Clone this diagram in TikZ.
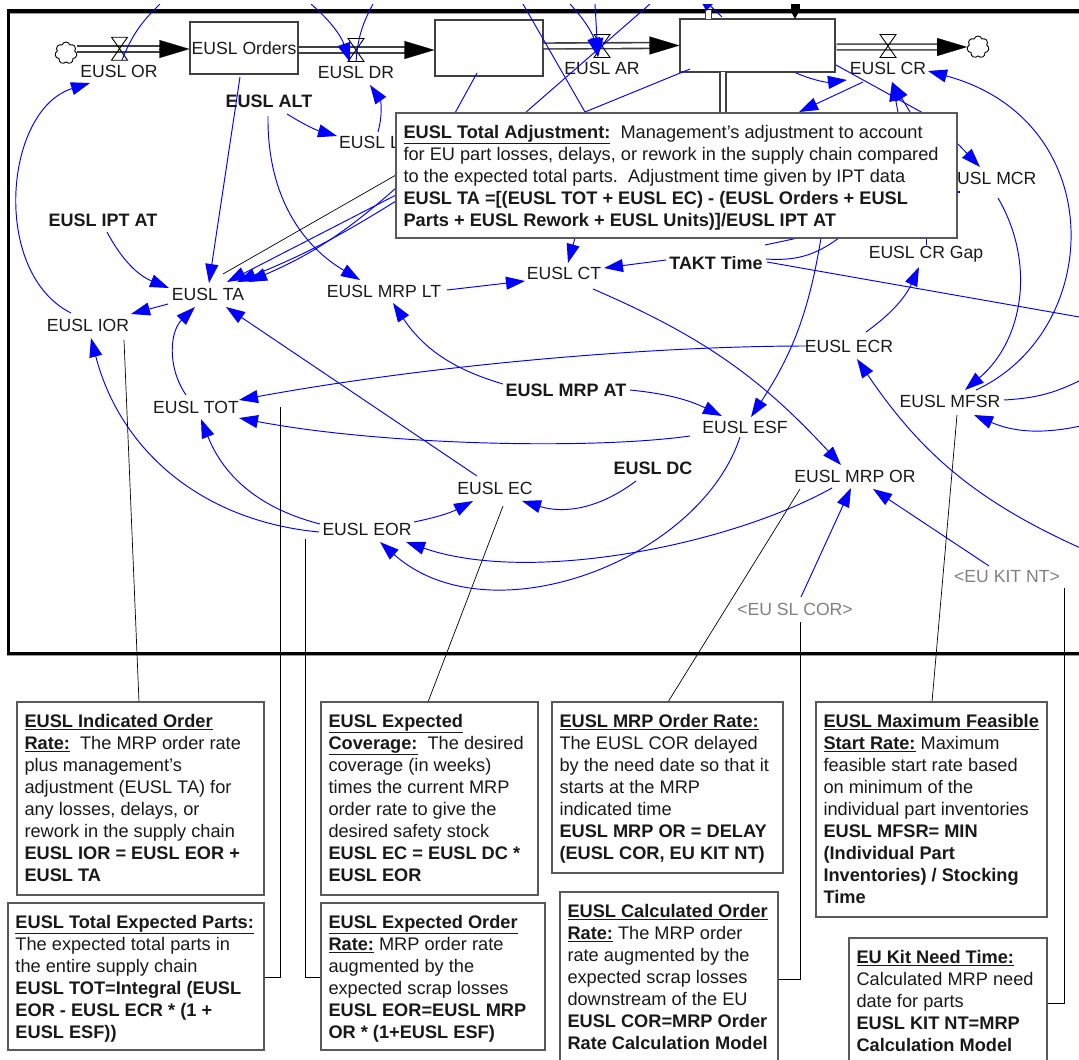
\documentclass[tikz,border=0pt]{standalone}
\usepackage{fontspec}
\setmainfont{Liberation Sans}
\usetikzlibrary{arrows.meta,shapes.symbols,calc}
\pgfdeclarelayer{top}
\pgfsetlayers{main,top}
\newcommand\hd[1]{\underline{\textbf{#1}}}
\newcommand\bx[3]{\parbox[c][#2pt][t]{#1pt}{\raggedright\strut #3}}
\newcommand\valve[2]{\draw[valvest] (#1-8,#2-11.5) -- (#1+8,#2+11.5) -- (#1-8,#2+11.5) -- (#1+8,#2-11.5) -- cycle;}
\tikzset{
  lab/.style={font=\fontsize{17.6}{20}\selectfont,inner sep=0pt,text=black!90},
  blab/.style={lab,font=\fontsize{18}{20}\bfseries\selectfont},
  glab/.style={lab,text=black!50},
  stock/.style={draw=black!75,line width=1.2pt,fill=white,inner sep=0pt},
  cn/.style={draw=blue,line width=0.95pt,-{Triangle[length=19,width=13]}},
  ln/.style={draw=blue,line width=0.95pt},
  lead/.style={draw=black,line width=0.7pt},
  pipe/.style={draw=black!75,line width=1.6pt,double=white,double distance=4.2pt},
  pipehead/.style={draw=black,line width=0.2pt,fill=black,-{Triangle[length=30,width=18]}},
  valvest/.style={draw=black,line width=0.9pt},
  cloudst/.style={cloud,cloud puffs=7,draw=black,line width=0.9pt,minimum width=22pt,minimum height=22pt,aspect=1,inner sep=0pt,fill=white},
  tbox/.style={draw=black!65,line width=1.1pt,fill=white,inner xsep=7.5pt,inner ysep=10pt,outer sep=0pt,anchor=north west,text=black!90,font=\fontsize{18.2}{22}\selectfont},
  bl/.style={bend left=#1},
  br/.style={bend right=#1},
}
\begin{document}
\begin{tikzpicture}[x=1pt,y=-1pt]
\path[use as bounding box] (0,0) rectangle (1079,1060);
\begin{scope}
\clip (0,4.5) rectangle (1079,1060);
% frame
\draw[line width=2pt,draw=black!40] (1090,13) -- (7.5,13) -- (7.5,655) -- (1090,655);
\draw[line width=3.6pt,draw=black] (1090,11) -- (8.5,11) -- (8.5,653.5) -- (1090,653.5);

% free ends
\coordinate (t1) at (160,4);
\coordinate (t2) at (311,4);
\coordinate (t3) at (373,4);
\coordinate (t4) at (523,4);
\coordinate (t5) at (650,4);
\coordinate (t6) at (570,4);
\coordinate (t7) at (595,4);
\coordinate (t8) at (697,-7);
\coordinate (t9) at (795,2);
\coordinate (r1) at (1085,550);
\coordinate (r2) at (1085,378);
\coordinate (r3) at (1085,425);
\coordinate (r4) at (1085,318);

% clouds, stocks
\node[cloudst] (cl1) at (66,53) {};
\node[cloudst] (cl2) at (978,47) {};
\node[stock,minimum width=108pt,minimum height=52pt] (orders) at (244,48) {};
\node[stock,minimum width=108pt,minimum height=56pt] (b2) at (489,48) {};
\node[stock,minimum width=155pt,minimum height=53pt] (b3) at (757.5,45.5) {};

% vertical pipes
\draw[pipe] (723,72) -- (723,116);
\draw[pipe] (708.5,10) -- (708.5,19);

% pipes
\draw[pipe] (cl1.east |- 0,49) -- ([shift={(-25,1)}]orders.west);
\draw[pipehead] (160,49) -- ([shift={(0,1)}]orders.west);
\draw[pipe] ([shift={(0,2)}]orders.east) -- ([shift={(-25,2)}]b2.west);
\draw[pipehead] ([shift={(-30,2)}]b2.west) -- ([shift={(0,2)}]b2.west);
\draw[pipe] ([shift={(0,-2)}]b2.east) -- ([shift={(-25,0)}]b3.west);
\draw[pipehead] ([shift={(-30,0)}]b3.west) -- (b3.west);
\draw[pipe] ([shift={(1,1.5)}]b3.east) -- ([shift={(-25,0)}]cl2.west);
\draw[pipehead] ([shift={(-30,0)}]cl2.west) -- (cl2.west);

\valve{119.5}{48.7}
\valve{356}{50}
\valve{602}{46}
\valve{888}{46}

% labels
\node[lab] at (244,48) {EUSL Orders};
\node[lab] (or) at (119,71) {EUSL OR};
\node[lab] (dr) at (356,72) {EUSL DR};
\node[lab] (ar) at (602,68) {EUSL AR};
\node[lab] (cr) at (888,68) {EUSL CR};
\node[blab] (alt) at (269,101) {EUSL ALT};
\node[lab,anchor=west] (lt) at (339,142) {EUSL L};
\node[lab,anchor=west] (mcr) at (957,178) {USL MCR};
\node[blab] (ipt) at (103,220) {EUSL IPT AT};
\node[lab] (ta) at (208,294) {EUSL TA};
\node[lab] (mrplt) at (384,291) {EUSL MRP LT};
\node[lab] (ior) at (88,325) {EUSL IOR};
\node[lab] (ct) at (564,273) {EUSL CT};
\node[blab] (takt) at (716,263) {TAKT Time};
\node[lab] (gap) at (926,254) {EUSL CR Gap};
\node[lab] (ecr) at (849,346) {EUSL ECR};
\node[lab] (mfsr) at (950,401) {EUSL MFSR};
\node[lab] (esf) at (745,427) {EUSL ESF};
\node[blab] (mrpat) at (566,390) {EUSL MRP AT};
\node[blab] (dc) at (653,468) {EUSL DC};
\node[lab] (mrpor) at (855,476) {EUSL MRP OR};
\node[lab] (ec) at (495,488) {EUSL EC};
\node[lab] (eor) at (367,529) {EUSL EOR};
\node[lab] (tot) at (196,407) {EUSL TOT};
\node[glab] (slcor) at (795,609) {<EU SL COR>};
\node[glab] (kit) at (1007,577) {<EU KIT NT>};

% text boxes lie on the top layer, above whatever passes behind them
\begin{pgfonlayer}{top}
\node[tbox] (tb) at (396,113) {\bx{546}{105}{\hd{EUSL Total Adjustment:}\ \ Management's adjustment to account\\for EU part losses, delays, or rework in the supply chain compared\\to the expected total parts.\ \ Adjustment time given by IPT data\\\textbf{EUSL TA =[(EUSL TOT + EUSL EC) - (EUSL Orders + EUSL}\\\textbf{Parts + EUSL Rework + EUSL Units)]/EUSL IPT AT}}};
\node[tbox] (A) at (17,702) {\bx{232}{173}{\hd{EUSL Indicated Order}\\\hd{Rate:}\ \ The MRP order rate\\plus management's\\adjustment (EUSL TA) for\\any losses, delays, or\\rework in the supply chain\\\textbf{EUSL IOR = EUSL EOR +}\\\textbf{EUSL TA}}};
\node[tbox] (B) at (8,903) {\bx{241}{127}{\hd{EUSL Total Expected Parts:}\\The expected total parts in\\the entire supply chain\\\textbf{EUSL TOT=Integral (EUSL}\\\textbf{EOR - EUSL ECR * (1 +}\\\textbf{EUSL ESF))}}};
\node[tbox] (C) at (321,702) {\bx{202}{173}{\hd{EUSL Expected}\\\hd{Coverage:}\ \ The desired\\coverage (in weeks)\\times the current MRP\\order rate to give the\\desired safety stock\\\textbf{EUSL EC = EUSL DC *}\\\textbf{EUSL EOR}}};
\node[tbox] (D) at (321,903) {\bx{209}{127}{\hd{EUSL Expected Order}\\\hd{Rate:} MRP order rate\\augmented by the\\expected scrap losses\\\textbf{EUSL EOR=EUSL MRP}\\\textbf{OR * (1+EUSL ESF)}}};
\node[tbox] (E) at (552,702) {\bx{216}{151}{\hd{EUSL MRP Order Rate:}\\The EUSL COR delayed\\by the need date so that it\\starts at the MRP\\indicated time\\\textbf{EUSL MRP OR = DELAY}\\\textbf{(EUSL COR, EU KIT NT)}}};
\node[tbox] (F) at (560,892) {\bx{203}{154}{\hd{EUSL Calculated Order}\\\hd{Rate:} The MRP order\\rate augmented by the\\expected scrap losses\\downstream of the EU\\\textbf{EUSL COR=MRP Order}\\\textbf{Rate Calculation Model}}};
\node[tbox] (G) at (816,702) {\bx{216}{195}{\hd{EUSL Maximum Feasible}\\\hd{Start Rate:} Maximum\\feasible start rate based\\on minimum of the\\individual part inventories\\\textbf{EUSL MFSR= MIN}\\\textbf{(Individual Part}\\\textbf{Inventories) / Stocking}\\\textbf{Time}}};
\node[tbox] (H) at (849,938) {\bx{183}{110}{\hd{EU Kit Need Time:}\\Calculated MRP need\\date for parts\\\textbf{EUSL KIT NT=MRP}\\\textbf{Calculation Model}}};
\end{pgfonlayer}

% blue connectors
\draw[ln] (t1) to[br=12] ([shift={(3,-11)}]or.center);
\draw[cn] (t2) to[bl=15] ([shift={(-6,-10)}]dr.center);
\draw[ln] (t3) to[br=12] ([shift={(0,-10)}]dr.center);
\draw[cn] ([shift={(-4,29)}]orders.center) -- ([shift={(1,-11)}]ta.center);
\draw[cn] ([shift={(18,13)}]alt.center) to[br=8] ([shift={(-2,-6)}]lt.west);
\draw[cn] ([shift={(39,-10)}]lt.west) to[br=25] ([shift={(14,13)}]dr.center);
\draw[cn] ([shift={(-1,15)}]alt.center) to[br=30] ([shift={(-24,-11)}]mrplt.center);
\draw[cn] ([shift={(4,12)}]ipt.center) to[br=20] ([shift={(-39,-6)}]ta.center);
\draw[cn] ([shift={(-17,-12)}]ior.center) to[bl=68] ([shift={(-29,12)}]or.center);
\draw[cn] ([shift={(-40,10)}]ta.center) -- ([shift={(43,-11)}]ior.center);
\draw[cn] ([shift={(-10,-12)}]tot.center) to[bl=40] ([shift={(-13,13)}]ta.center);
\draw[cn] ([shift={(-18,-12)}]ec.center) -- ([shift={(18,13)}]ta.center);
\draw[cn] ([shift={(-48,3)}]eor.center) to[bl=35] ([shift={(3,13)}]ior.center);
\draw[cn] ([shift={(-47,-5)}]eor.center) to[bl=27] ([shift={(5,12)}]tot.center);
\draw[cn] ([shift={(-42,0)}]ecr.center) .. controls (650,346) and (430,365) .. ([shift={(43,-7)}]tot.center);
\draw[cn] ([shift={(-55,9)}]esf.center) .. controls (590,450) and (380,445) .. ([shift={(43,11)}]tot.center);
\draw[cn] ([shift={(-63,-6)}]mrpat.center) to[bl=20] ([shift={(9,12)}]mrplt.center);
\draw[cn] ([shift={(63,-1)}]mrplt.center) -- ([shift={(-39,8)}]ct.center);
\draw[cn] ([shift={(47,-7)}]eor.center) to[br=8] ([shift={(-22,13)}]ec.center);
\draw[cn] ([shift={(-17,13)}]dc.center) to[bl=27] ([shift={(27,13)}]ec.center);
\draw[cn] ([shift={(-23,12)}]mrpor.center) .. controls (730,545) and (530,585) .. ([shift={(39,13)}]eor.center);
\draw[cn] ([shift={(-5,10)}]esf.center) .. controls (700,560) and (490,640) .. ([shift={(13,13)}]eor.center);
\draw[cn] ([shift={(64,0)}]mrpat.center) to[bl=10] ([shift={(-23,-11)}]esf.center);
\draw[cn] ([shift={(144.5,62.5)}]tb.center) to[bl=12] ([shift={(6,-10)}]esf.center);
\draw[cn] ([shift={(17,-14)}]ecr.center) to[br=15] ([shift={(-7,13)}]gap.center);
\draw[ln] ([shift={(0,-9)}]gap.center) -- ([shift={(249.5,62.5)}]tb.center);
\draw[cn] ([shift={(29,16)}]ct.center) to[bl=12] ([shift={(-14,-11)}]mrpor.center);
\draw[cn] ([shift={(41,20)}]mcr.west) to[bl=40] ([shift={(15,-11)}]mfsr.center);
\draw[cn] ([shift={(26,-11)}]mfsr.center) .. controls (1105,330) and (1110,120) .. ([shift={(40,3)}]cr.center);
\draw[cn] (r1) to[bl=16] ([shift={(8,13)}]ecr.center);
\draw[ln] ([shift={(54,-1)}]mfsr.center) to[br=12] (r2);
\draw[cn] (r3) to[bl=18] ([shift={(24,14)}]mfsr.center);
\draw[cn] ([shift={(-18,-11)}]kit.center) -- ([shift={(18,13)}]mrpor.center);
\draw[cn] ([shift={(6,-12)}]slcor.center) -- ([shift={(-4,12)}]mrpor.center);
\draw[ln] ([shift={(51,-1)}]takt.center) -- (r4);
\draw[cn] ([shift={(-50,-3)}]takt.center) -- ([shift={(40,-5)}]ct.center);
\draw[ln] ([shift={(50,-4)}]takt.center) to[br=20] ([shift={(162.5,62.5)}]tb.center);
\draw[ln] ([shift={(49,-18)}]takt.center) -- ([shift={(121.5,62.5)}]tb.center);
\draw[cn] ([shift={(-101.5,62.5)}]tb.center) -- ([shift={(4,-10)}]ct.center);
\draw[ln] ([shift={(-67.5,23.5)}]b3.center) -- ([shift={(-91.5,-63.5)}]tb.center);
\draw[ln] (t4) -- ([shift={(-91.5,-63.5)}]tb.center);
\draw[ln] (t5) -- ([shift={(-151.5,-62.5)}]tb.center);
\draw[ln] ([shift={(-12,25)}]b2.center) -- ([shift={(-221.5,-62.5)}]tb.center);
\draw[cn] ([shift={(38.5,27.5)}]b3.center) to[br=15] ([shift={(-41,12)}]cr.center);
\draw[cn] ([shift={(-25,14)}]cr.center) -- ([shift={(122.5,-63.5)}]tb.center);
\draw[ln] ([shift={(78.5,19.5)}]b3.center) -- ([shift={(246.5,-62.5)}]tb.center);
\draw[cn] ([shift={(221.5,-63.5)}]tb.center) -- ([shift={(4,14)}]cr.center);
\draw[cn] ([shift={(233.5,-63.5)}]tb.center) -- ([shift={(4,14)}]cr.center);
\draw[cn] ([shift={(281.5,-31.5)}]tb.center) -- ([shift={(23,-11)}]mcr.west);
\draw[cn] (t6) to[bl=15] ([shift={(-4,-11)}]ar.center);
\draw[cn] (t7) -- ([shift={(-4,-11)}]ar.center);
\draw[cn] ([shift={(-35.5,-28.5)}]b3.center) -- (t8);
\draw[draw=black,line width=9pt,-{Triangle[length=9pt,width=9pt]}] (t9) -- ([shift={(37.5,-26.5)}]b3.center);
% adjustment loops into EUSL TA
\draw[cn] ([shift={(-280.5,12.5)}]tb.center) to[bl=9] ([shift={(40,-12)}]ta.center);
\draw[cn] ([shift={(-280.5,19.5)}]tb.center) -- ([shift={(19,-12)}]ta.center);
\draw[cn] ([shift={(-280.5,25.5)}]tb.center) to[bl=5] ([shift={(29,-12)}]ta.center);
\draw[ln,line width=1.6pt] ([shift={(281,16.5)}]tb.center) -- ([shift={(283,16.5)}]tb.center);

% leaders
\draw[lead] ([shift={(-280.5,-0.5)}]tb.center) -- ([shift={(15,-20)}]ta.center);
\draw[lead] ([shift={(36,15)}]ior.center) -- ([shift={(122,0)}]A.north west);
\draw[lead] ([shift={(84,0)}]tot.center) |- ([shift={(0,0.5)}]B.east);
\draw[lead] ([shift={(-62,10)}]eor.center) |- ([shift={(0,0.5)}]D.west);
\draw[lead] ([shift={(8,18)}]ec.center) -- ([shift={(107,0)}]C.north west);
\draw[lead] ([shift={(-55,13)}]mrpor.center) -- ([shift={(116,0)}]E.north west);
\draw[lead] ([shift={(5,13)}]slcor.center) |- (F.east);
\draw[lead] ([shift={(57,11)}]kit.center) |- (H.east);
\draw[lead] ([shift={(7,14)}]mfsr.center) -- ([shift={(116,0)}]G.north west);
\end{scope}
\end{tikzpicture}
\end{document}
